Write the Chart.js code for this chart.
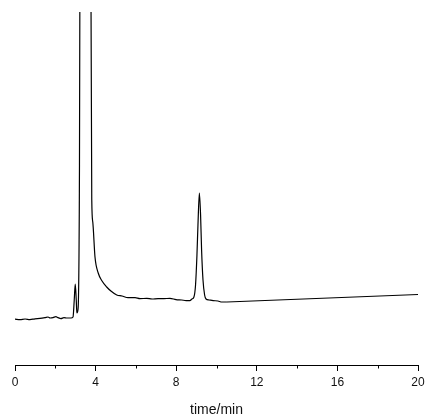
<!DOCTYPE html>
<html>
<head>
<meta charset="utf-8">
<title>Chromatogram</title>
<script src="https://cdn.jsdelivr.net/npm/chart.js@4"></script>
<style>
    html, body { margin: 0; padding: 0; background: #fff; }
    #wrap { width: 425px; height: 416px; }
</style>
</head>
<body>
<div id="wrap"><canvas id="chromChart"></canvas></div>
<script>
const timeMin = [
    0.00, 0.25, 0.50, 0.74, 0.99, 1.24, 1.49, 1.64, 1.74, 1.89,
    2.03, 2.13, 2.28, 2.43, 2.58, 2.78, 2.88, 2.94, 2.99, 3.04,
    3.07, 3.13, 3.20, 3.245, 3.50, 3.765, 3.81, 3.86, 3.97, 4.13,
    4.32, 4.55, 4.76, 5.05, 5.31, 5.61, 5.96, 6.20, 6.54, 6.80,
    7.10, 7.39, 7.69, 7.99, 8.27, 8.49, 8.68, 8.78, 8.88, 8.96,
    9.03, 9.08, 9.15, 9.21, 9.26, 9.33, 9.41, 9.48, 9.63, 9.83,
    10.07, 10.27, 10.52
];

// Detector signal (arbitrary units), the solvent peak runs far off scale
const signal = [
    22.9, 22.7, 23.0, 22.7, 23.1, 23.3, 23.7, 24.0, 23.5, 23.7,
    24.2, 23.7, 23.2, 23.7, 23.5, 23.5, 24.0, 32.5, 40.5, 32.5,
    26.0, 28.0, 100.0, 300.0, 3000.0, 200.0, 82.5, 71.5, 54.0, 46.0,
    42.0, 39.0, 37.0, 35.0, 34.5, 33.7, 33.7, 33.2, 33.3, 33.0,
    33.2, 33.2, 33.3, 32.7, 32.5, 32.2, 32.2, 33.0, 34.0, 40.0,
    55.0, 70.0, 86.0, 75.0, 57.5, 42.5, 35.0, 33.0, 32.5, 32.2,
    32.0, 31.5, 31.5
];

// straight drift segment drawn after the run ends
const driftTime = [10.52, 20.00];
const driftSignal = [31.5, 35.25];

// Axis ticks
const majorTicks = [0, 4, 8, 12, 16, 20];
const minorTicks = [2, 6, 10, 14, 18];

const FONT = "'Liberation Sans', Arial, sans-serif";

// short minor ticks under the time axis
const minorTickPlugin = {
    id: 'minorTicks',
    afterDraw(chart) {
        const xs = chart.scales.x;
        const ctx = chart.ctx;
        const y0 = chart.chartArea.bottom;
        ctx.save();
        ctx.strokeStyle = '#000';
        ctx.lineWidth = 1;
        ctx.beginPath();
        minorTicks.forEach(v => {
            const px = Math.round(xs.getPixelForValue(v)) + 0.5;
            ctx.moveTo(px, y0);
            ctx.lineTo(px, y0 + 3.5);
        });
        ctx.stroke();
        ctx.restore();
    }
};

const toPoints = (xs, ys) => xs.map((t, i) => ({ x: t, y: ys[i] }));

new Chart(document.getElementById('chromChart'), {
    type: 'line',
    data: {
        datasets: [
            {
                data: toPoints(timeMin, signal),
                borderColor: '#000',
                borderWidth: 1.2,
                pointRadius: 0,
                cubicInterpolationMode: 'monotone',
                fill: false
            },
            {
                data: toPoints(driftTime, driftSignal),
                borderColor: '#000',
                borderWidth: 1.2,
                pointRadius: 0,
                tension: 0,
                fill: false
            }
        ]
    },
    options: {
        responsive: true,
        maintainAspectRatio: false,
        animation: false,
        layout: { padding: { left: 15, right: 7, top: 12, bottom: -1 } },
        plugins: {
            legend: { display: false },
            tooltip: { enabled: false }
        },
        scales: {
            x: {
                type: 'linear',
                min: 0,
                max: 20,
                afterBuildTicks: scale => {
                    scale.ticks = majorTicks.map(v => ({ value: v }));
                },
                // let the "20" label sit close to the canvas edge
                afterFit: scale => {
                    scale.paddingLeft = 0;
                    scale.paddingRight = 0;
                },
                border: { display: true, color: '#000', width: 1 },
                grid: {
                    drawOnChartArea: false,
                    drawTicks: true,
                    tickLength: 6,
                    color: '#000'
                },
                ticks: {
                    color: '#111',
                    padding: 4,
                    maxRotation: 0,
                    font: { family: FONT, size: 12 }
                },
                title: {
                    display: true,
                    text: 'time/min',
                    color: '#111',
                    font: { family: FONT, size: 14, lineHeight: 1 },
                    padding: { top: 9.6, bottom: 0 }
                }
            },
            y: {
                display: false,
                min: 0,
                max: 176.5
            }
        }
    },
    plugins: [minorTickPlugin]
});
</script>
</body>
</html>
